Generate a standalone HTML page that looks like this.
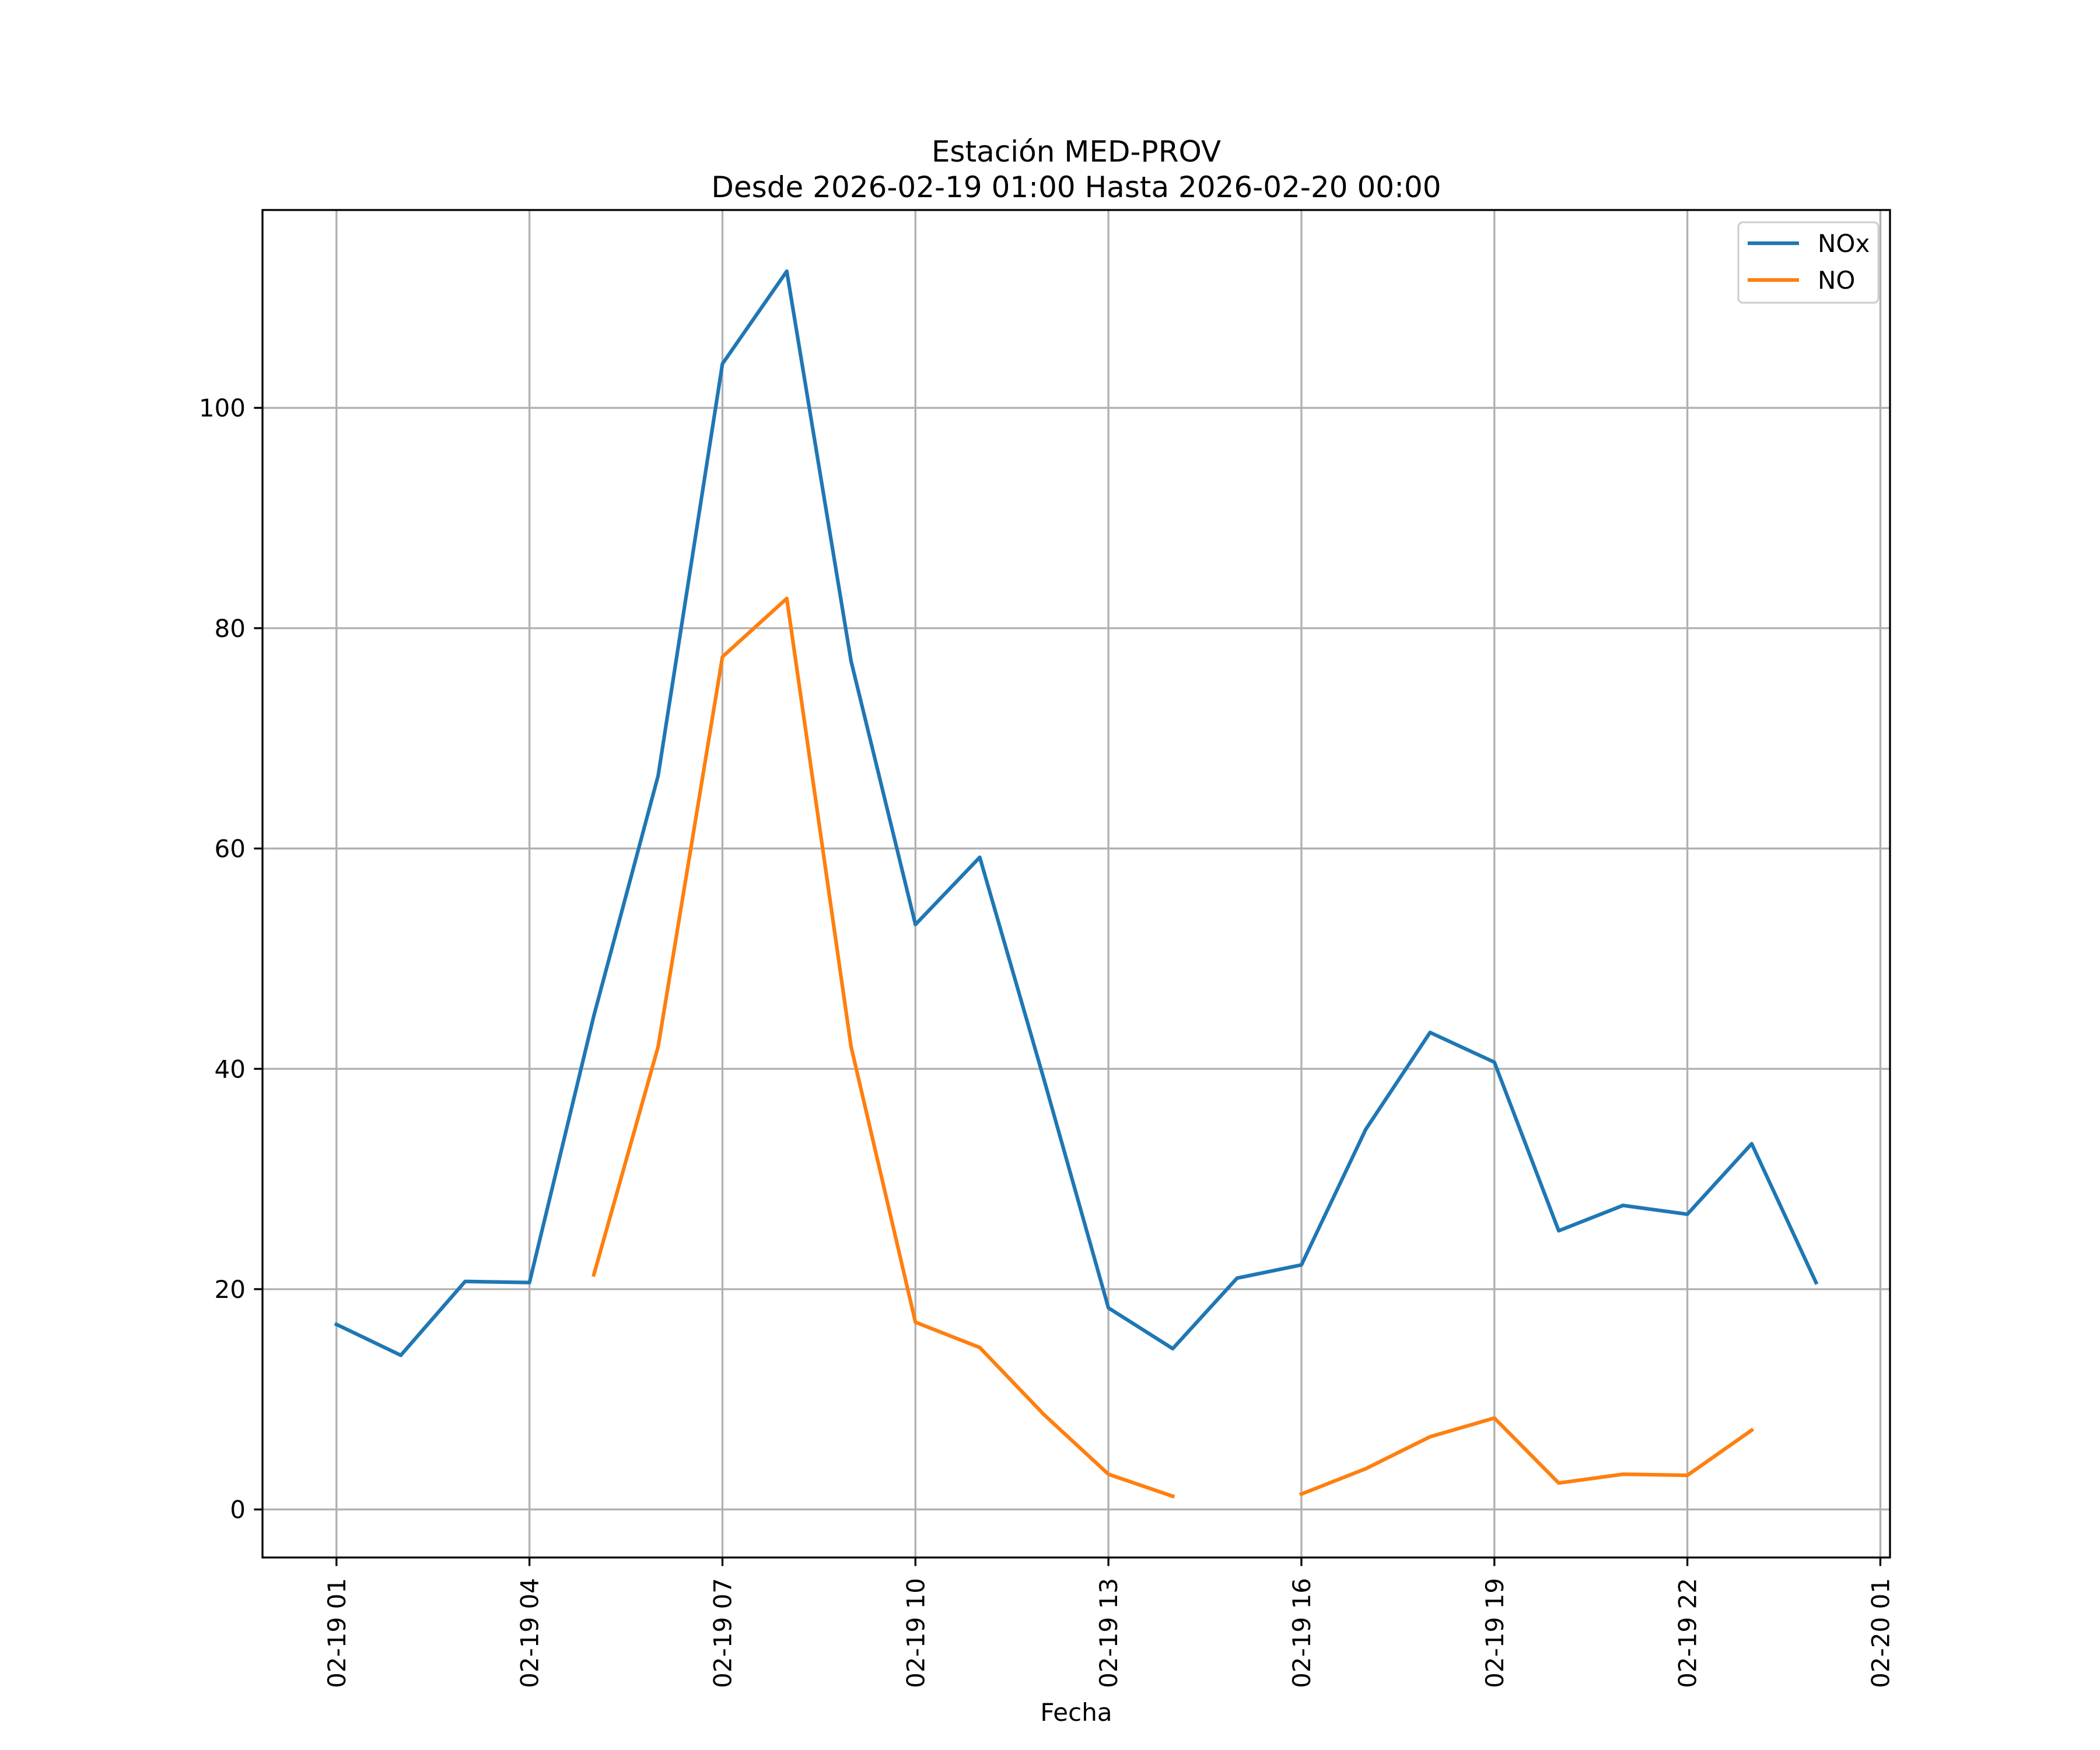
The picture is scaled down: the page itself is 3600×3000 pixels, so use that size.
<!DOCTYPE html>
<html><head><meta charset="utf-8"><style>
html,body{margin:0;padding:0;background:#fff}
svg{display:block;font-family:"DejaVu Sans","Liberation Sans",sans-serif}
</style></head><body>
<svg id="chart" width="3600" height="3000" viewBox="0 0 3600 3000" xmlns="http://www.w3.org/2000/svg">
<rect width="3600" height="3000" fill="#fff"/>
<text x="1845" y="277" font-size="50" text-anchor="middle">Estación MED-PROV</text>
<text x="1845" y="338" font-size="50" text-anchor="middle">Desde 2026-02-19 01:00 Hasta 2026-02-20 00:00</text>
<g id="grid"></g>
<g id="series"></g>
<g id="axes"></g>
<text x="1845" y="2950" font-size="42" text-anchor="middle">Fecha</text>
<g>
<rect x="2980" y="381" width="240" height="138" rx="8" fill="#fff" fill-opacity="0.8" stroke="#ccc" stroke-width="3"/>
<line x1="2996" y1="417" x2="3084" y2="417" stroke="#1f77b4" stroke-width="6.25"/>
<text x="3116" y="432" font-size="42">NOx</text>
<line x1="2996" y1="480" x2="3084" y2="480" stroke="#ff7f0e" stroke-width="6.25"/>
<text x="3116" y="495" font-size="42">NO</text>
</g>
</svg>
<script>
const hours = [1,2,3,4,5,6,7,8,9,10,11,12,13,14,15,16,17,18,19,20,21,22,23,24];
const noxValues = [16.8,14.0,20.7,20.6,44.8,66.6,104.0,112.4,77.0,53.1,59.2,39.0,18.3,14.6,21.0,22.2,34.5,43.3,40.6,25.3,27.6,26.8,33.2,20.6];
const noValues = [null,null,null,null,21.3,42.0,77.4,82.7,42.0,17.0,14.7,8.6,3.2,1.2,null,1.4,3.7,6.6,8.3,2.4,3.2,3.1,7.2,null];
const xTickHours = [1,4,7,10,13,16,19,22,25];
const xTickLabels = ["02-19 01","02-19 04","02-19 07","02-19 10","02-19 13","02-19 16","02-19 19","02-19 22","02-20 01"];
const yTicks = [0,20,40,60,80,100];

const L=450,R=3240,T=360,B=2670;
const xmin=-0.15,xmax=25.15,ymin=-4.36,ymax=117.96;
const X=h=>L+(h-xmin)/(xmax-xmin)*(R-L);
const Y=v=>B-(v-ymin)/(ymax-ymin)*(B-T);
const NS="http://www.w3.org/2000/svg";
function mk(tag,attrs,parent){const e=document.createElementNS(NS,tag);for(const k in attrs)e.setAttribute(k,attrs[k]);parent.appendChild(e);return e;}
const grid=document.getElementById('grid'),axes=document.getElementById('axes'),series=document.getElementById('series');

xTickHours.forEach((h,i)=>{
  const x=X(h);
  const g=mk('line',{x1:x,x2:x,y1:T,y2:B,stroke:'#b0b0b0','stroke-width':3.3},grid);
  
  
  const t=mk('line',{x1:x,x2:x,y1:B,y2:B+14.6,stroke:'#000','stroke-width':3.3},axes);
  
  
  const lb=mk('text',{x:0,y:0,'font-size':42,'text-anchor':'end',transform:`translate(${x+15},${B+35}) rotate(-90)`},axes);
  lb.textContent=xTickLabels[i];
  
  
});
yTicks.forEach(v=>{
  const y=Y(v);
  const g=mk('line',{x1:L,x2:R,y1:y,y2:y,stroke:'#b0b0b0','stroke-width':3.3},grid);
  
  
  const t=mk('line',{x1:L-14.6,x2:L,y1:y,y2:y,stroke:'#000','stroke-width':3.3},axes);
  
  
  const lb=mk('text',{x:L-29,y:y+15,'font-size':42,'text-anchor':'end'},axes);
  lb.textContent=String(v);
  
  
});
const frame=mk('rect',{x:L,y:T,width:R-L,height:B-T,fill:'none',stroke:'#000','stroke-width':3.3},axes);



function drawSeries(vals,color,name){
  let segs=[],cur=[];
  vals.forEach((v,i)=>{if(v==null){if(cur.length)segs.push(cur);cur=[];}else cur.push(X(hours[i])+','+Y(v));});
  if(cur.length)segs.push(cur);
  segs.forEach(s=>{
    const p=mk('polyline',{points:s.join(' '),fill:'none',stroke:color,'stroke-width':6.25,'stroke-linejoin':'round','stroke-linecap':'square'},series);
    
    
  });
}
drawSeries(noxValues,'#1f77b4','nox-line');
drawSeries(noValues,'#ff7f0e','no-line');
</script>
</body></html>
